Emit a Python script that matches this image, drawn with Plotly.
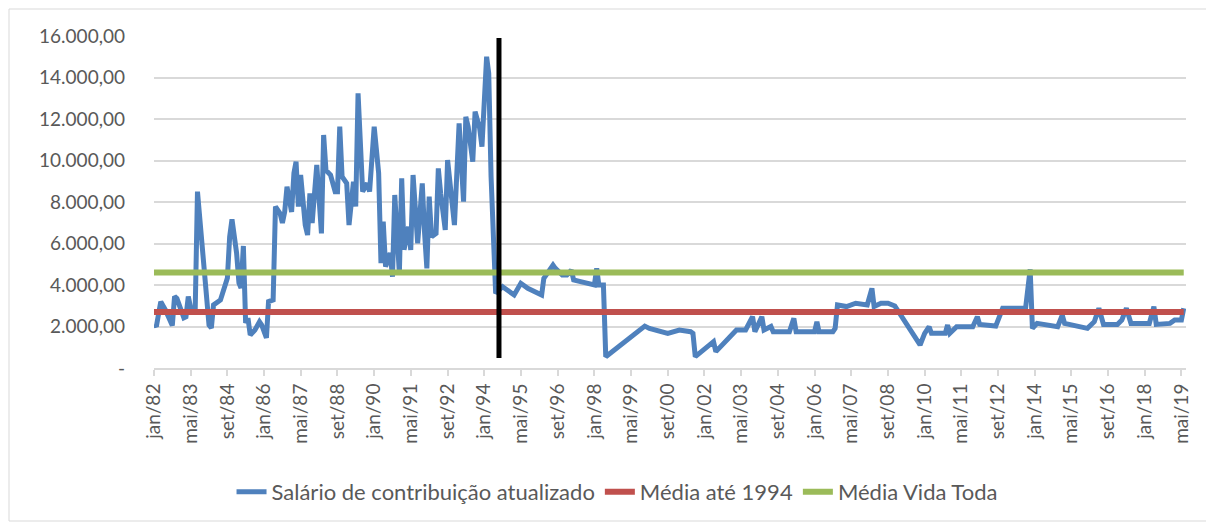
import plotly.graph_objects as go

# ---- data ----
months = [
    "1982-01","1982-02","1982-04","1982-06","1982-09","1982-10","1982-11","1983-02","1983-03","1983-04",
    "1983-05","1983-07","1983-08","1983-11","1984-01","1984-02","1984-03","1984-06","1984-08","1984-09",
    "1984-10","1984-11","1985-01","1985-02","1985-03","1985-04","1985-05","1985-06","1985-07","1985-09",
    "1985-11","1985-12","1986-02","1986-03","1986-05","1986-06","1986-08","1986-09","1986-10","1986-11",
    "1987-01","1987-02","1987-03","1987-04","1987-05","1987-07","1987-08","1987-09","1987-10","1987-12",
    "1988-02","1988-03","1988-04","1988-06","1988-08","1988-09","1988-10","1988-11","1989-01","1989-02",
    "1989-04","1989-05","1989-06","1989-08","1989-10","1989-11","1990-01","1990-03","1990-04","1990-05",
    "1990-06","1990-08","1990-09","1990-10","1990-12","1991-01","1991-02","1991-04","1991-05","1991-06",
    "1991-08","1991-10","1991-11","1991-12","1992-01","1992-02","1992-04","1992-05","1992-06","1992-08",
    "1992-09","1992-11","1992-12","1993-02","1993-04","1993-05","1993-06","1993-08","1993-09","1993-11",
    "1993-12","1994-02","1994-03","1994-04","1994-05","1994-06","1994-09","1995-02","1995-05","1995-08",
    "1996-02","1996-03","1996-07","1996-08","1996-11","1997-01","1997-03","1997-04","1997-07","1998-01",
    "1998-02","1998-03","1998-05","1998-06","1999-11","2000-01","2000-09","2001-02","2001-07","2001-08",
    "2001-09","2002-05","2002-06","2003-02","2003-03","2003-07","2003-10","2003-11","2004-02","2004-03",
    "2004-06","2004-07","2005-02","2005-04","2005-05","2006-01","2006-02","2006-03","2006-09","2006-10",
    "2006-11","2007-03","2007-07","2007-12","2008-02","2008-03","2008-06","2008-09","2008-12","2009-11",
    "2010-01","2010-03","2010-04","2010-10","2010-11","2010-12","2011-03","2011-10","2011-12","2012-01",
    "2012-08","2012-11","2013-09","2013-11","2013-12","2014-02","2014-11","2015-01","2015-02","2015-12",
    "2016-03","2016-05","2016-07","2017-01","2017-03","2017-05","2017-07","2018-03","2018-05","2018-06",
    "2018-12","2019-02","2019-05","2019-06",
]
salario = [
    2100, 2000, 3200, 2800, 2050, 3450, 3350, 2420, 2470, 3440,
    2930, 2650, 8500, 4720, 2070, 1930, 3040, 3280, 4100, 4340,
    6330, 7170, 5540, 4100, 3860, 5880, 2170, 2410, 1590, 1830,
    2230, 2070, 1450, 3200, 3280, 7780, 7450, 6990, 7520, 8740,
    7520, 9400, 9940, 7780, 9300, 6890, 6410, 8420, 6990, 9790,
    6490, 11230, 9530, 9300, 8500, 8500, 11630, 9220, 8900, 6890,
    8980, 7780, 13240, 8500, 8900, 8500, 11630, 9400, 5050, 7050,
    4880, 5540, 4400, 8340, 4560, 9140, 5700, 6810, 5690, 9300,
    6010, 8900, 6490, 4800, 8260, 6330, 6490, 9620, 8420, 6650,
    10020, 7610, 6890, 11790, 8020, 12110, 11630, 9940, 12350, 11550,
    10670, 15000, 14200, 9220, 6490, 3600, 3920, 3520, 4080, 3840,
    3520, 4320, 4960, 4800, 4480, 4480, 4720, 4240, 4160, 4000,
    4800, 4000, 4000, 545, 2020, 1910, 1670, 1830, 1750, 1670,
    545, 1270, 790, 1750, 1830, 1830, 2470, 1750, 2470, 1830,
    2000, 1750, 1750, 2390, 1750, 1750, 2230, 1750, 1750, 1910,
    3040, 2960, 3120, 3040, 3840, 2960, 3120, 3120, 2990, 1110,
    1670, 1990, 1670, 1670, 2070, 1670, 1990, 1990, 2470, 2100,
    2020, 2880, 2880, 4760, 1910, 2150, 1990, 2550, 2150, 1910,
    2230, 2880, 2100, 2100, 2310, 2880, 2150, 2150, 2960, 2100,
    2150, 2310, 2310, 2880,
]
media_ate_1994 = 2700
media_vida_toda = 4600
marco_1994 = "1994-07-15"        # vertical black marker
periodo = ["1982-01", "2019-06"]  # span of the two average lines

tick_labels = ["jan/82","mai/83","set/84","jan/86","mai/87","set/88","jan/90","mai/91","set/92",
               "jan/94","mai/95","set/96","jan/98","mai/99","set/00","jan/02","mai/03","set/04",
               "jan/06","mai/07","set/08","jan/10","mai/11","set/12","jan/14","mai/15","set/16",
               "jan/18","mai/19"]
y_ticks = [0, 2000, 4000, 6000, 8000, 10000, 12000, 14000, 16000]
y_labels = ["-", "2.000,00", "4.000,00", "6.000,00", "8.000,00", "10.000,00",
            "12.000,00", "14.000,00", "16.000,00"]

mes_num = {"jan": 1, "mai": 5, "set": 9}
tick_vals = []
for t in tick_labels:
    m, y = t.split("/")
    yy = int(y)
    year = 1900 + yy if yy > 50 else 2000 + yy
    tick_vals.append(f"{year}-{mes_num[m]:02d}-01")

FONT = "Lato"
GREY = "#595959"

fig = go.Figure()
fig.add_trace(go.Scatter(x=months, y=salario, mode="lines",
                         name="Salário de contribuição atualizado",
                         line=dict(color="#4F81BD", width=5)))
fig.add_trace(go.Scatter(x=periodo, y=[media_ate_1994, media_ate_1994], mode="lines",
                         name="Média até 1994", line=dict(color="#C0504D", width=6)))
fig.add_trace(go.Scatter(x=periodo, y=[media_vida_toda, media_vida_toda], mode="lines",
                         name="Média Vida Toda", line=dict(color="#9BBB59", width=6)))

# vertical marker line
fig.add_shape(type="line", xref="x", yref="y", x0=marco_1994, x1=marco_1994,
              y0=480, y1=15900, line=dict(color="black", width=5))

# page body has an 8px margin: figure drawn at (8,8)
OFF = 8
W, H = 1214 - OFF, 526 - OFF
PL, PT, PW, PH = 154, 36, 1032, 332          # target plot area in window pixels
L, T = PL - OFF, PT - OFF
R = W - L - PW
B = H - T - PH
def px(xp): return (xp - PL) / PW
def py(yp): return (PT + PH - yp) / PH
fig.add_shape(type="rect", xref="paper", yref="paper",
              x0=px(9), x1=px(1209), y0=py(521), y1=py(9),
              line=dict(color="#D9D9D9", width=1), fillcolor="rgba(0,0,0,0)", layer="below")

fig.update_layout(
    width=W, height=H,
    margin=dict(l=L, r=R, t=T, b=B),
    plot_bgcolor="white", paper_bgcolor="white",
    font=dict(family=FONT, color=GREY, size=19),
    showlegend=True,
    legend=dict(orientation="h", xref="container", yref="container",
                x=0.505, xanchor="center", y=(H - (492 - OFF)) / H, yanchor="middle",
                font=dict(size=22, color=GREY), tracegroupgap=0),
    xaxis=dict(type="date", range=["1982-01-01", "2019-07-01"],
               tickmode="array", tickvals=tick_vals, ticktext=tick_labels,
               tickangle=-90, ticks="outside", ticklen=6, tickcolor="#D9D9D9", tickwidth=2,
               showgrid=False, showline=True, linecolor="#D9D9D9", linewidth=2,
               tickfont=dict(size=19, color=GREY), zeroline=False),
    yaxis=dict(range=[0, 16000], tickmode="array", tickvals=y_ticks, ticktext=y_labels,
               showgrid=True, gridcolor="#D9D9D9", gridwidth=2,
               zeroline=False, showline=False, ticks="",
               ticklabelstandoff=28,
               tickfont=dict(size=19, color=GREY)),
)

fig.write_html("out.html")
